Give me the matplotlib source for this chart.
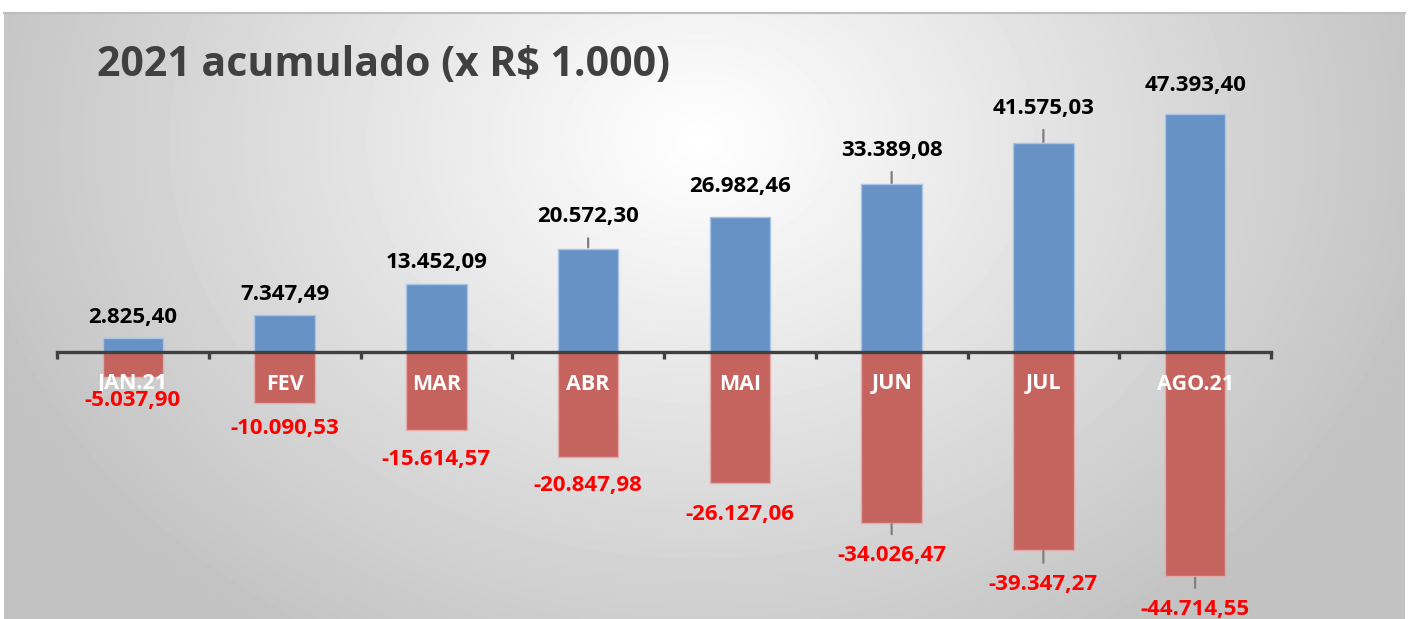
import numpy as np
import matplotlib
matplotlib.use("Agg")
import matplotlib.pyplot as plt

# data (x R$ 1.000)
meses = ["JAN.21", "FEV", "MAR", "ABR", "MAI", "JUN", "JUL", "AGO.21"]
receitas = [2825.40, 7347.49, 13452.09, 20572.30, 26982.46, 33389.08, 41575.03, 47393.40]
despesas = [-5037.90, -10090.53, -15614.57, -20847.98, -26127.06, -34026.47, -39347.27, -44714.55]

# label offsets in pixels from bar end, and which get leader lines
off_pos = [20, 21, 22, 32, 30, 34, 35, 29]
off_neg = [23, 26, 29, 29, 31, 33, 35, 33]
lead_pos = [False, False, False, True, False, True, True, False]
lead_neg = [False, False, False, False, False, True, True, True]

W, H = 1411, 619
plt.rcParams["font.family"] = ["Open Sans", "DejaVu Sans"]


def fmt(v):
    s = f"{v:,.2f}"
    return s.replace(",", "X").replace(".", ",").replace("X", ".")


fig = plt.figure(figsize=(W / 100, H / 100), dpi=100)
fig.patch.set_facecolor("white")

# background panel with radial-ish gradient
bg = fig.add_axes([0, 0, 1, 1], zorder=0)
bg.set_xlim(0, W)
bg.set_ylim(H, 0)
bg.axis("off")
xx, yy = np.meshgrid(np.linspace(4, 1405, 400), np.linspace(12, 619, 200))
d = np.sqrt(((xx - 700) / 760) ** 2 + ((yy - 140) / 600) ** 2)
shade = 1 - 0.24 * np.clip(d, 0, 1)
bg.imshow(shade, cmap="gray", vmin=0, vmax=1, extent=[4, 1405, 619, 12],
          aspect="auto", interpolation="bilinear")
bg.plot([4, 1405], [12.5, 12.5], color="#bdbdbd", lw=1.5)

fig.text(97 / W, 1 - 76 / H, "2021 acumulado (x R$ 1.000)", fontsize=29.5,
         fontweight="bold", color="#404040", ha="left", va="baseline")

px = 5.02 / 1000
ax = fig.add_axes([57 / W, 0, (1271 - 57) / W, 1], zorder=2)
ax.patch.set_alpha(0)
ax.set_xlim(-0.5, 7.5)
ax.set_ylim(-(H - 352) / px, 352 / px)

x = np.arange(len(meses))
ax.bar(x, receitas, width=0.4, color="#6692c6", edgecolor="#a9c4e4", linewidth=1, zorder=2)
ax.bar(x, despesas, width=0.4, color="#c5645f", edgecolor="#e3aaa7", linewidth=1, zorder=2)

for s in ["top", "right", "left"]:
    ax.spines[s].set_visible(False)
ax.spines["bottom"].set_position(("data", 0))
ax.spines["bottom"].set_color("#404040")
ax.spines["bottom"].set_linewidth(2.4)
ax.spines["bottom"].set_zorder(3)
ax.set_yticks([])
ax.set_xticks(np.arange(-0.5, 8, 1))
ax.set_xticklabels([])
ax.tick_params(axis="x", direction="out", length=5, width=2.4, color="#404040")

lbl_shift = matplotlib.transforms.ScaledTranslation(0, -32 / 100, fig.dpi_scale_trans)
for i in range(len(meses)):
    ax.text(x[i], 0, meses[i], color="white", fontsize=15.5, fontweight="bold",
            ha="center", va="center", zorder=4, transform=ax.transData + lbl_shift)

    ap = dict(arrowstyle="-", color="#7f7f7f", lw=1.6, shrinkA=6, shrinkB=1) if lead_pos[i] else None
    ax.annotate(fmt(receitas[i]), (x[i], receitas[i]), xytext=(0, off_pos[i]),
                textcoords="offset pixels", ha="center", va="center",
                fontsize=16, fontweight="bold", color="black", arrowprops=ap, zorder=5)

    ap = dict(arrowstyle="-", color="#7f7f7f", lw=1.6, shrinkA=6, shrinkB=1) if lead_neg[i] else None
    ax.annotate(fmt(despesas[i]), (x[i], despesas[i]), xytext=(0, -off_neg[i]),
                textcoords="offset pixels", ha="center", va="center",
                fontsize=16, fontweight="bold", color="#ff0000", arrowprops=ap, zorder=5)

fig.savefig("out.png", dpi=100)
